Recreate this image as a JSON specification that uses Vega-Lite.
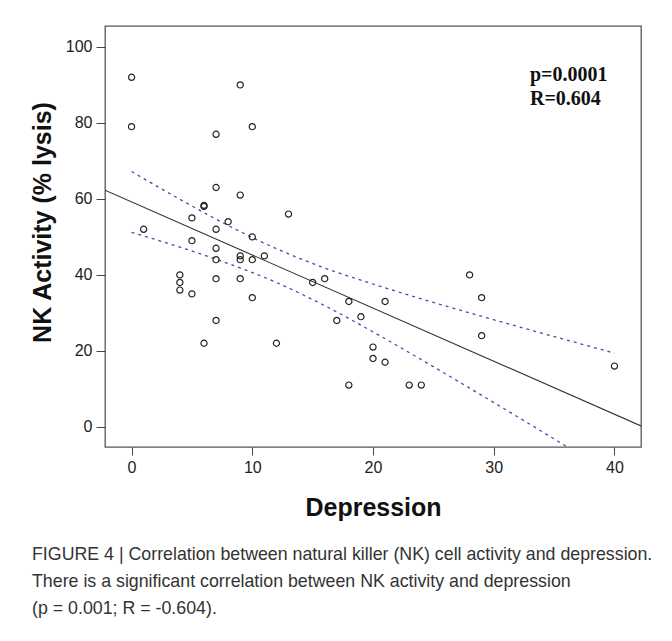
{
  "$schema": "https://vega.github.io/schema/vega-lite/v6.json",
  "width": 536,
  "height": 421,
  "autosize": {"type": "none"},
  "padding": {"left": 105, "top": 26, "right": 31, "bottom": 194},
  "background": "white",
  "config": {
    "view": {"stroke": "#555555", "strokeWidth": 1.3},
    "font": "Liberation Sans"
  },
  "title": {
    "text": [
      "FIGURE 4 | Correlation between natural killer (NK) cell activity and depression.",
      "There is a significant correlation between NK activity and depression",
      "(p = 0.001; R = -0.604)."
    ],
    "orient": "bottom",
    "anchor": "start",
    "frame": "group",
    "dx": -73,
    "offset": 26,
    "fontSize": 17.8,
    "fontWeight": "normal",
    "color": "#333333",
    "lineHeight": 27,
    "font": "Liberation Sans"
  },
  "datasets": {
    "points": [
      {"x": 0, "y": 92}, {"x": 9, "y": 90}, {"x": 0, "y": 79}, {"x": 7, "y": 77}, {"x": 10, "y": 79},
      {"x": 7, "y": 63}, {"x": 9, "y": 61}, {"x": 6, "y": 58}, {"x": 6, "y": 58.3}, {"x": 13, "y": 56},
      {"x": 5, "y": 55}, {"x": 8, "y": 54}, {"x": 1, "y": 52}, {"x": 7, "y": 52}, {"x": 10, "y": 50},
      {"x": 5, "y": 49}, {"x": 7, "y": 47}, {"x": 9, "y": 45}, {"x": 9, "y": 44}, {"x": 7, "y": 44},
      {"x": 10, "y": 44}, {"x": 11, "y": 45}, {"x": 4, "y": 40}, {"x": 4, "y": 38}, {"x": 4, "y": 36},
      {"x": 5, "y": 35}, {"x": 7, "y": 39}, {"x": 9, "y": 39}, {"x": 10, "y": 34}, {"x": 15, "y": 38},
      {"x": 16, "y": 39}, {"x": 7, "y": 28}, {"x": 6, "y": 22}, {"x": 12, "y": 22}, {"x": 18, "y": 33},
      {"x": 17, "y": 28}, {"x": 19, "y": 29}, {"x": 20, "y": 21}, {"x": 20, "y": 18}, {"x": 18, "y": 11},
      {"x": 21, "y": 33}, {"x": 21, "y": 17}, {"x": 23, "y": 11}, {"x": 24, "y": 11}, {"x": 28, "y": 40},
      {"x": 29, "y": 34}, {"x": 29, "y": 24}, {"x": 40, "y": 16}
    ],
    "fit": [
      {"x": -2.2, "y": 62.27},
      {"x": 42.2, "y": 0.25}
    ],
    "band": [
      {"bound": "upper", "x": 0, "y": 67.2}, {"bound": "upper", "x": 4, "y": 59.9},
      {"bound": "upper", "x": 8, "y": 53.0}, {"bound": "upper", "x": 12, "y": 46.9},
      {"bound": "upper", "x": 16, "y": 41.8}, {"bound": "upper", "x": 20, "y": 37.6},
      {"bound": "upper", "x": 24, "y": 33.7}, {"bound": "upper", "x": 28, "y": 30.0},
      {"bound": "upper", "x": 32, "y": 26.4}, {"bound": "upper", "x": 36, "y": 22.9},
      {"bound": "upper", "x": 40, "y": 19.4},
      {"bound": "lower", "x": 0, "y": 51.2}, {"bound": "lower", "x": 4, "y": 47.3},
      {"bound": "lower", "x": 8, "y": 43.0}, {"bound": "lower", "x": 12, "y": 38.0},
      {"bound": "lower", "x": 16, "y": 31.9}, {"bound": "lower", "x": 20, "y": 25.0},
      {"bound": "lower", "x": 24, "y": 17.7}, {"bound": "lower", "x": 28, "y": 10.2},
      {"bound": "lower", "x": 32, "y": 2.6}, {"bound": "lower", "x": 36, "y": -5.1}
    ],
    "stats": [
      {"x": 33.0, "y": 91.05, "label": "p=0.0001"},
      {"x": 33.0, "y": 84.66, "label": "R=0.604"}
    ]
  },
  "encoding": {
    "x": {
      "field": "x",
      "type": "quantitative",
      "scale": {"domain": [-2.2, 42.2], "nice": false, "zero": false},
      "axis": {
        "title": "Depression",
        "titleFontSize": 25,
        "titleFontWeight": "bold",
        "titleColor": "#111111",
        "titleFont": "Liberation Sans",
        "titleY": 60,
        "titleBaseline": "middle",
        "values": [0, 10, 20, 30, 40],
        "labelFontSize": 16,
        "labelColor": "#222222",
        "labelPadding": 4,
        "tickSize": 8,
        "tickColor": "#444444",
        "domain": false,
        "grid": false
      }
    },
    "y": {
      "field": "y",
      "type": "quantitative",
      "scale": {"domain": [-5.3, 105.5], "nice": false, "zero": false},
      "axis": {
        "title": "NK Activity (% lysis)",
        "titleFontSize": 25,
        "titleFontWeight": "bold",
        "titleColor": "#111111",
        "titleFont": "Liberation Sans",
        "titleX": -63,
        "titleY": 196,
        "titleAngle": -90,
        "titleAlign": "center",
        "titleBaseline": "middle",
        "values": [0, 20, 40, 60, 80, 100],
        "labelFontSize": 16,
        "labelColor": "#222222",
        "labelPadding": 4,
        "tickSize": 9,
        "tickColor": "#444444",
        "domain": false,
        "grid": false
      }
    }
  },
  "layer": [
    {
      "data": {"name": "fit"},
      "mark": {"type": "line", "color": "#333333", "strokeWidth": 1.1, "clip": true}
    },
    {
      "data": {"name": "band"},
      "mark": {"type": "line", "color": "#4b4bab", "strokeWidth": 1.3, "strokeDash": [3, 4], "interpolate": "monotone", "clip": true},
      "encoding": {"detail": {"field": "bound"}}
    },
    {
      "data": {"name": "points"},
      "mark": {"type": "point", "shape": "circle", "filled": false, "stroke": "#222222", "strokeWidth": 1.2, "size": 38, "opacity": 1}
    },
    {
      "data": {"name": "stats"},
      "mark": {"type": "text", "align": "left", "baseline": "alphabetic", "font": "Liberation Serif", "fontWeight": "bold", "fontSize": 20, "color": "#111111"},
      "encoding": {"text": {"field": "label"}}
    }
  ]
}
